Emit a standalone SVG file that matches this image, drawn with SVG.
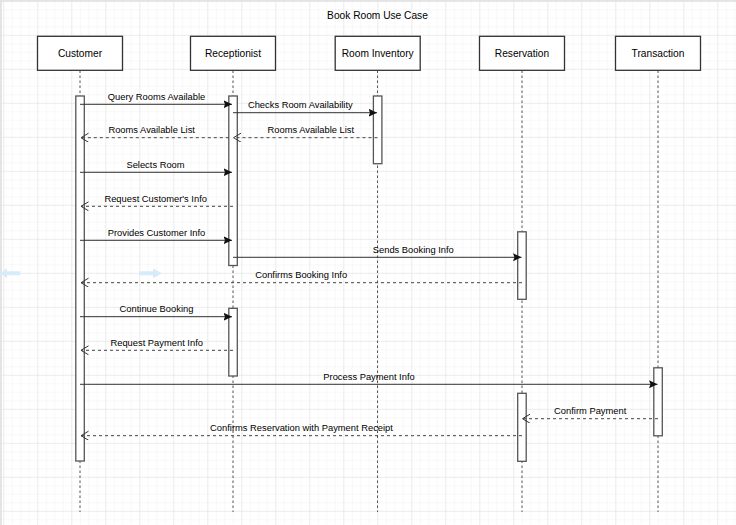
<svg xmlns="http://www.w3.org/2000/svg" width="736" height="525" viewBox="0 0 736 525">
<style>
.lbl{font-family:"Liberation Sans",Arial,Helvetica,sans-serif;font-size:10.2px;fill:#000;text-anchor:middle}
.msgt{font-family:"Liberation Sans",Arial,Helvetica,sans-serif;font-size:9.35px;fill:#000;text-anchor:middle}
.box{fill:#fff;stroke:#333;stroke-width:1.3}
.act{fill:#fff;stroke:#555;stroke-width:1.3}
.life{stroke:#555;stroke-width:1;stroke-dasharray:2.5,2.5;fill:none}
.sync{stroke:#333;stroke-width:1;fill:none;marker-end:url(#filled)}
.ret{stroke:#444;stroke-width:1;stroke-dasharray:3,3;fill:none;marker-end:url(#open)}
</style>
<defs>
<pattern id="minor" patternUnits="userSpaceOnUse" x="3.3" y="0.8" width="8.5" height="8.5">
<path d="M0,0 H8.5 M0,0 V8.5" stroke="#f2f2f2" stroke-width="1" fill="none"/>
</pattern>
<pattern id="major" patternUnits="userSpaceOnUse" x="3.3" y="0.8" width="34" height="34">
<path d="M0,0 H34 M0,0 V34" stroke="#e2e2e2" stroke-width="1" fill="none"/>
</pattern>
<marker id="filled" markerUnits="userSpaceOnUse" markerWidth="10" markerHeight="9" refX="8.5" refY="4" orient="auto">
<path d="M0,0 L8.5,4 L0,8 L1.5,4 z" fill="#111"/>
</marker>
<marker id="open" markerUnits="userSpaceOnUse" markerWidth="10" markerHeight="10" refX="7.5" refY="4.5" orient="auto">
<path d="M0,0 L7.5,4.5 L0,9" fill="none" stroke="#333" stroke-width="1"/>
</marker>
</defs>
<rect width="736" height="525" fill="#fff"/>
<rect width="736" height="525" fill="url(#minor)"/>
<rect width="736" height="525" fill="url(#major)"/>
<path d="M0,0.8 H736 M1,0 V525" stroke="#e4e4e4" stroke-width="2" fill="none"/>

<text class="lbl" x="377.5" y="18.5">Book Room Use Case</text>

<g id="faint-arrows" fill="#d6ecfb">
<polygon points="0,273.3 7,268.3 7,271.3 20,271.3 20,275.3 7,275.3 7,278.3"/>
<polygon points="139,271.3 153,271.3 153,268.3 162,273.3 153,278.3 153,275.3 139,275.3"/>
</g>

<g id="lifelines">
<line class="life" x1="80" y1="70.5" x2="80" y2="512"/>
<line class="life" x1="233" y1="70.5" x2="233" y2="512"/>
<line class="life" x1="377.5" y1="70.5" x2="377.5" y2="512"/>
<line class="life" x1="522" y1="70.5" x2="522" y2="512"/>
<line class="life" x1="658" y1="70.5" x2="658" y2="512"/>
</g>

<g id="customer">
<rect class="box" x="37.5" y="36.3" width="85" height="34"/>
<text class="lbl" x="80" y="56.5">Customer</text>
<rect class="act" x="75.8" y="96" width="8.5" height="365"/>
</g>
<g id="receptionist">
<rect class="box" x="190.5" y="36.3" width="85" height="34"/>
<text class="lbl" x="233" y="56.5">Receptionist</text>
<rect class="act" x="228.8" y="96" width="8.5" height="169.5"/>
<rect class="act" x="228.8" y="308.3" width="8.5" height="67.7"/>
</g>
<g id="room-inventory">
<rect class="box" x="335.2" y="36.3" width="85" height="34"/>
<text class="lbl" x="377.7" y="56.5">Room Inventory</text>
<rect class="act" x="373.4" y="96" width="8.5" height="67.7"/>
</g>
<g id="reservation">
<rect class="box" x="479.5" y="36.3" width="85" height="34"/>
<text class="lbl" x="522" y="56.5">Reservation</text>
<rect class="act" x="517.7" y="231.8" width="8.5" height="67.5"/>
<rect class="act" x="517.7" y="393.3" width="8.5" height="68"/>
</g>
<g id="transaction">
<rect class="box" x="615.5" y="36.3" width="85" height="34"/>
<text class="lbl" x="658" y="56.5">Transaction</text>
<rect class="act" x="653.8" y="367.8" width="8.5" height="68"/>
</g>

<g id="connectors">
<line class="sync" x1="80" y1="104.3" x2="232" y2="104.3"/>
<line class="sync" x1="233" y1="112.7" x2="377" y2="112.7"/>
<line class="ret" x1="377.5" y1="137.7" x2="233.5" y2="137.7"/>
<line class="ret" x1="228.8" y1="137.7" x2="81" y2="137.7"/>
<line class="sync" x1="80" y1="172.3" x2="232" y2="172.3"/>
<line class="ret" x1="233" y1="206.3" x2="81" y2="206.3"/>
<line class="sync" x1="80" y1="240.3" x2="232" y2="240.3"/>
<line class="sync" x1="233" y1="257.3" x2="521.5" y2="257.3"/>
<line class="ret" x1="522" y1="282.7" x2="81" y2="282.7"/>
<line class="sync" x1="80" y1="316.7" x2="232" y2="316.7"/>
<line class="ret" x1="233" y1="350.3" x2="81" y2="350.3"/>
<line class="sync" x1="80" y1="384.3" x2="657.5" y2="384.3"/>
<line class="ret" x1="658" y1="418.7" x2="522.5" y2="418.7"/>
<line class="ret" x1="522" y1="435.7" x2="81" y2="435.7"/>
</g>

<g id="connector-labels">
<text class="msgt" x="156.5" y="100">Query Rooms Available</text>
<text class="msgt" x="300.3" y="108.3">Checks Room Availability</text>
<text class="msgt" x="310.8" y="133.3">Rooms Available List</text>
<text class="msgt" x="151.7" y="133.3">Rooms Available List</text>
<text class="msgt" x="155.5" y="167.8">Selects Room</text>
<text class="msgt" x="155.7" y="201.8">Request Customer's Info</text>
<text class="msgt" x="156.5" y="235.8">Provides Customer Info</text>
<text class="msgt" x="413.3" y="252.8">Sends Booking Info</text>
<text class="msgt" x="301.2" y="278.2">Confirms Booking Info</text>
<text class="msgt" x="156.5" y="312.2">Continue Booking</text>
<text class="msgt" x="156.7" y="345.8">Request Payment Info</text>
<text class="msgt" x="369" y="379.8">Process Payment Info</text>
<text class="msgt" x="590.2" y="414.2">Confirm Payment</text>
<text class="msgt" x="301.5" y="431.2">Confirms Reservation with Payment Receipt</text>
</g>
</svg>
